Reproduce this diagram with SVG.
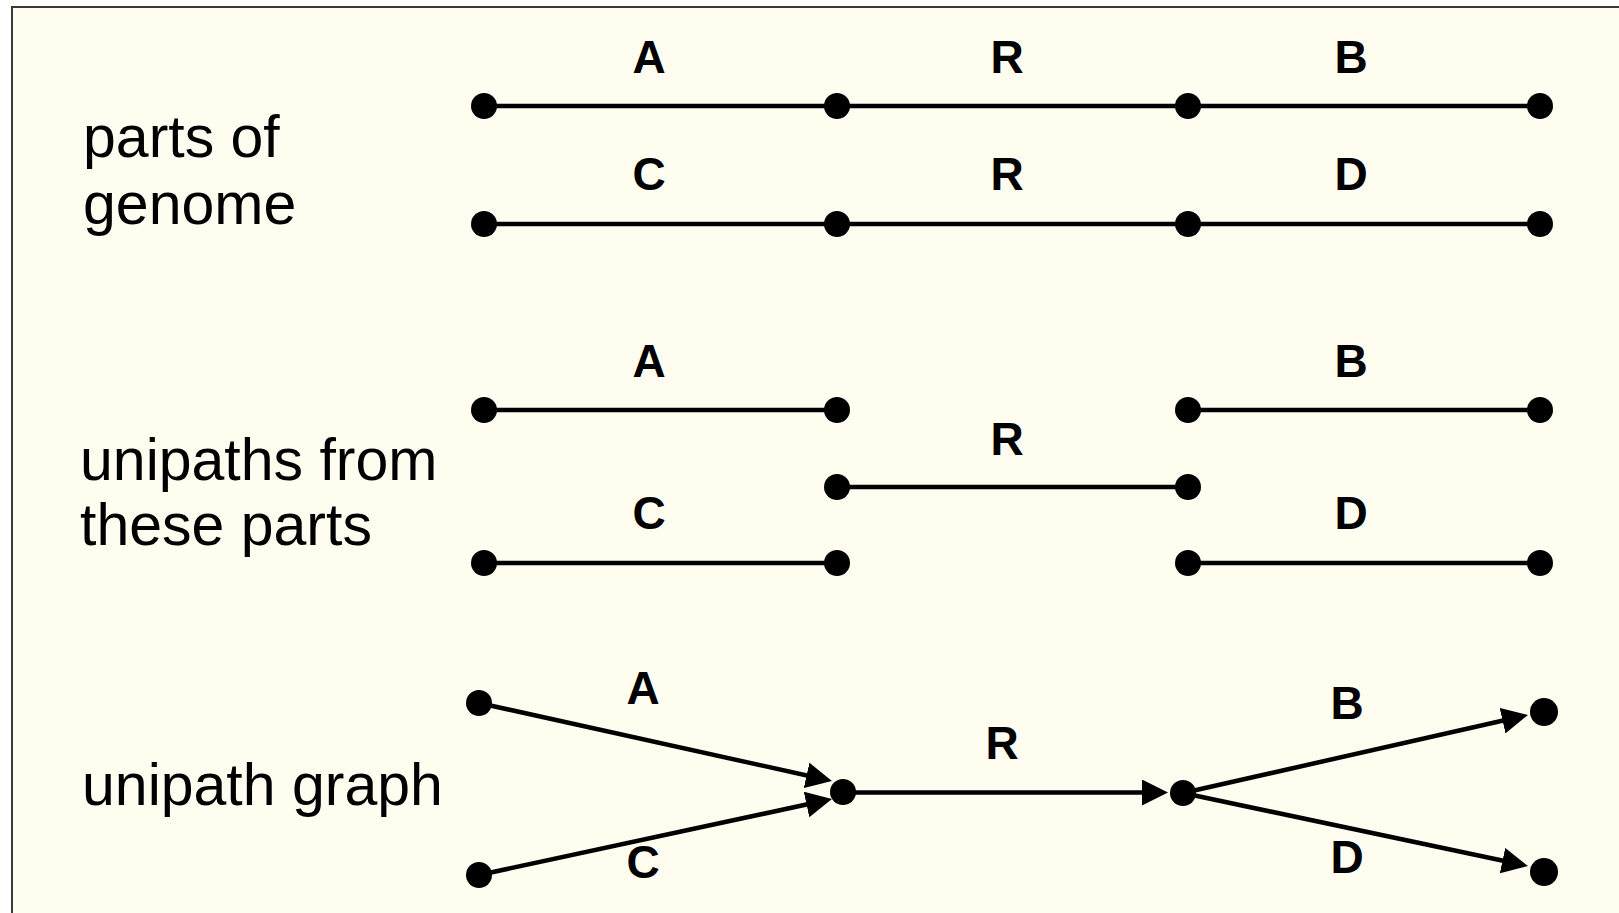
<svg xmlns="http://www.w3.org/2000/svg" width="1619" height="913" viewBox="0 0 1619 913">
<style>
.bg{fill:#FFFDF0;stroke:#3a3a3a;stroke-width:2}
.ln{stroke:#000;stroke-width:4.5;fill:none}
.nd{fill:#000}
.lab{font-family:"Liberation Sans",Arial,sans-serif;font-weight:bold;font-size:46px;text-anchor:middle;fill:#000}
.side{font-family:"Liberation Sans",Arial,sans-serif;font-size:59px;fill:#000}
</style>
<defs>
<marker id="arr" markerUnits="userSpaceOnUse" markerWidth="26" markerHeight="26" viewBox="0 0 26 26" refX="20" refY="13" orient="auto">
<path d="M0,0 L26,13 L0,26 z" fill="#000"/>
</marker>
</defs>
<rect class="bg" x="12" y="7" width="1620" height="920"/>
<g id="titles">
<text class="side" x="83" y="157">parts of</text>
<text class="side" x="83" y="224">genome</text>
<text class="side" x="80" y="480">unipaths from</text>
<text class="side" x="80" y="545">these parts</text>
<text class="side" x="82" y="805">unipath graph</text>
</g>
<g id="connectors">
<line class="ln" x1="484" y1="106" x2="1540" y2="106"/>
<line class="ln" x1="484" y1="224" x2="1540" y2="224"/>
<line class="ln" x1="484" y1="410" x2="837" y2="410"/>
<line class="ln" x1="1188" y1="410" x2="1540" y2="410"/>
<line class="ln" x1="837" y1="487" x2="1188" y2="487"/>
<line class="ln" x1="484" y1="563" x2="837" y2="563"/>
<line class="ln" x1="1188" y1="563" x2="1540" y2="563"/>
<line class="ln" x1="479" y1="703" x2="826.1" y2="779.7" marker-end="url(#arr)"/>
<line class="ln" x1="479" y1="875" x2="826.1" y2="800.3" marker-end="url(#arr)"/>
<line class="ln" x1="843" y1="792.5" x2="1162" y2="792.5" marker-end="url(#arr)"/>
<line class="ln" x1="1183" y1="793" x2="1522.1" y2="716.3" marker-end="url(#arr)"/>
<line class="ln" x1="1183" y1="793" x2="1522.1" y2="864.8" marker-end="url(#arr)"/>
</g>
<g id="genome-row1">
<circle class="nd" cx="484" cy="106" r="13"/>
<circle class="nd" cx="837" cy="106" r="13"/>
<circle class="nd" cx="1188" cy="106" r="13"/>
<circle class="nd" cx="1540" cy="106" r="13"/>
<text class="lab" x="649" y="73">A</text>
<text class="lab" x="1007" y="73">R</text>
<text class="lab" x="1351" y="73">B</text>
</g>
<g id="genome-row2">
<circle class="nd" cx="484" cy="224" r="13"/>
<circle class="nd" cx="837" cy="224" r="13"/>
<circle class="nd" cx="1188" cy="224" r="13"/>
<circle class="nd" cx="1540" cy="224" r="13"/>
<text class="lab" x="649" y="190">C</text>
<text class="lab" x="1007" y="190">R</text>
<text class="lab" x="1351" y="190">D</text>
</g>
<g id="unipaths">
<circle class="nd" cx="484" cy="410" r="13"/>
<circle class="nd" cx="837" cy="410" r="13"/>
<circle class="nd" cx="1188" cy="410" r="13"/>
<circle class="nd" cx="1540" cy="410" r="13"/>
<circle class="nd" cx="837" cy="487" r="13"/>
<circle class="nd" cx="1188" cy="487" r="13"/>
<circle class="nd" cx="484" cy="563" r="13"/>
<circle class="nd" cx="837" cy="563" r="13"/>
<circle class="nd" cx="1188" cy="563" r="13"/>
<circle class="nd" cx="1540" cy="563" r="13"/>
<text class="lab" x="649" y="377">A</text>
<text class="lab" x="1351" y="377">B</text>
<text class="lab" x="1007" y="455">R</text>
<text class="lab" x="649" y="529">C</text>
<text class="lab" x="1351" y="529">D</text>
</g>
<g id="graph">
<circle class="nd" cx="479" cy="703" r="13"/>
<circle class="nd" cx="479" cy="875" r="13"/>
<circle class="nd" cx="843" cy="792" r="13"/>
<circle class="nd" cx="1183" cy="793" r="13"/>
<circle class="nd" cx="1544" cy="712" r="14"/>
<circle class="nd" cx="1544" cy="872" r="14"/>
<text class="lab" x="643" y="704">A</text>
<text class="lab" x="1002" y="759">R</text>
<text class="lab" x="1347" y="719">B</text>
<text class="lab" x="643" y="878">C</text>
<text class="lab" x="1347" y="873">D</text>
</g>
</svg>
